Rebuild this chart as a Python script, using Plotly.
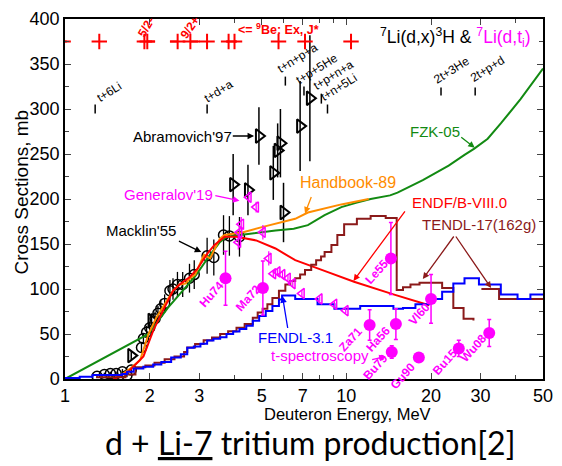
import math
import plotly.graph_objects as go

# ---------------- data (E in MeV, cross sections in mb) ----------------
fzk_E = [1.0, 1.98, 2.32, 2.66, 2.9, 3.28, 3.55, 3.75, 4.17, 4.89, 5.6, 6.5, 7.3, 8.37, 9.6,
         10.9, 12.2, 14.3, 15.2, 18.7, 23.1, 26.3, 28.5, 31.8, 35.4, 41.6, 50]
fzk_v = [0, 50, 79, 101, 114, 138, 152, 158, 160, 163, 165, 167, 171, 182, 191,
         196, 200, 204, 207, 221, 237, 249, 256, 267, 284, 311, 345]

hb_E = [1.49, 1.58, 1.71, 1.85, 1.98, 2.11, 2.26, 2.42, 2.55, 2.68, 2.79, 2.9, 3.12, 3.28,
        3.55, 3.69, 4.3, 5.05, 6.58, 7.3, 9.6, 12.0]
hb_v = [0, 4, 12, 21, 50, 68, 83, 98, 105, 106, 112, 116, 138, 134, 156, 160, 163, 169,
        178, 185, 194, 200]

endf_E = [1.49, 1.68, 1.9, 2.06, 2.23, 2.42, 2.58, 2.77, 2.95, 3.2, 3.4, 3.69, 4.07, 4.78,
          5.6, 6.58, 8.55, 10.65, 14.7, 19.7]
endf_v = [0, 8, 25, 54, 76, 98, 106, 113, 122, 139, 149, 158, 158, 154, 145, 132, 119, 108,
          94, 82]

tendl_E = [1.29, 1.64, 1.78, 1.93, 2.08, 2.26, 2.45, 2.65, 2.72, 2.90, 3.11, 3.33, 3.56, 3.80,
           4.07, 4.35, 4.65, 4.84, 5.04, 5.24, 5.46, 5.76, 6.07, 6.32, 6.58, 6.85, 7.13, 7.50,
           7.81, 8.13, 8.37, 8.85, 9.29, 9.82, 10.9, 12.2, 13.8, 15.1, 15.9, 16.9, 18.2, 21.9,
           24.0, 26.1, 28.3, None, 30.2, 34.9, 50]
tendl_v = [2, 5, 13, 15, 18, 22, 25, 30, 35, 39, 43, 46, 50, 53, 57, 61, 68, 74, 78, 83, 90,
           98, 105, 109, 112, 116, 121, 127, 132, 136, 141, 149, 160, 172, 178, 181, 179, 99,
           102, 105, 107, 101, 79, 67, 65, None, 100, 89, 89]

fendl_E = [1.0, 1.128, 1.254, 1.596, 1.662, 1.753, 1.899, 2.058, 2.2, 2.384, 2.58, 2.72, 2.87,
           3.03, 3.2, 3.37, 3.56, 3.75, 3.96, 4.17, 4.41, 4.65, 4.9, 5.17, 5.46, 5.76, 5.91,
           6.58, 7.9, 9.07, 11.2, 13.8, 14.7, 15.9, 17.6, 19.7, 21.9, 24.0, 26.3, 29.6, 35.4,
           40.6, 45.1, 50]
fendl_v = [1, 2.5, 4.4, 5.5, 8, 11.7, 13.5, 16.1, 19, 23.8, 27.4, 34.7, 36.2, 39.1, 42.7, 44.6,
           46.4, 50.1, 52.9, 55.6, 59.2, 64.7, 70.1, 75.6, 81.1, 88.4, 92.8, 89, 83, 78, 81, 81,
           78, 79, 83, 89, 97, 106, 112, 105, 94, 89, 94, 94]

macklin_E = [1.30, 1.38, 1.45, 1.52, 1.60, 1.66, 1.72, 1.87, 1.90, 1.95, 2.00, 2.09, 2.14, 2.19,
             2.26, 2.36, 2.42, 2.51, 2.62, 2.77, 2.88, 3.20, 3.38, 3.66, 3.84, 4.17]
macklin_v = [3, 5, 6, 6, 8, 4, 10, 35, 45, 52, 57, 67, 73, 78, 84, 98, 100, 105, 105, 112, 116,
             137, 135, 160, 159, 158]
macklin_err = [2, 2, 2, 2, 3, 2, 3, 5, 6, 7, 7, 8, 8, 9, 10, 12, 12, 14, 14, 16, 16, 20, 20, 22,
               22, 22]

abr_E = [1.72, 2.03, 3.96, 4.47, 4.89, 5.50, 5.70, 5.83, 5.98, 6.85, 7.42]
abr_v = [26, 65, 216, 210, 270, 229, 254, 262, 185, 281, 312]
abr_err = [5, 8, 34, 28, 32, 30, 30, 38, 33, 50, 70]

gen_E = [4.13, 4.17, 4.23, 4.50, 4.78, 5.05, 5.30, 5.50, 5.70, 5.93, 6.20, 6.45, 6.95, 8.04,
         9.07, 9.95]
gen_v = [152, 163, 172, 202, 191, 163, 134, 117, 119, 116, 112, 106, 95, 89, 83, 76]
gen_err = [8, 8, 8, 6, 6, 8, 8, 4, 4, 4, 4, 4, 4, 3, 3, 3]

ts_lab = ['Hu74', 'Ma72', 'Le55', 'Za71', 'Ha56', 'Bu79', 'Gu90', 'Vl60', 'Bu15', 'Wu08']
ts_E = [3.72, 5.05, 14.4, 12.1, 15.0, 14.5, 18.1, 20.0, 25.1, 32.2]
ts_v = [112, 101, 134, 60, 61, 30, 24, 89, 34, 51]
ts_err = [30, 30, 40, 17, 17, 7, 5, 27, 9, 15]

lev_E = [0.985, 1.324, 1.915, 1.961, 2.514, 2.79, 3.198, 3.815, 4.004, 5.74, 7.13, 10.39]
lev_v = [375] * len(lev_E)
lev_wp = [0.03, 0, 0, 0.13, 0, 0.23, 0, 0, 0.08, 0, 0, 0]
lev_wm = [0.03, 0, 0, 0, 0.15, 0, 0, 0.08, 0, 0, 0, 0]

thr_lab = ['t+6Li', 't+d+a', 't+n+p+a', 't+p+5He', 't+p+n+a', 't+n+5Li', '2t+3He', '2t+p+d']
thr_E = [1.28, 3.2, 6.07, 7.07, 8.15, 8.57, 21.7, 28.7]
thr_lo = [295, 295, 326, 315, 306, 295, 315, 315]
thr_hi = [305, 305, 336, 325, 317, 305, 324, 324]

x_ticks = [1, 2, 3, 5, 7, 10, 20, 30, 50]
x_minor = [4, 6, 8, 9, 40]

# ---------------- styling ----------------
FONT = "Liberation Sans, Arial, sans-serif"
MAG = "#FF00FF"
GREEN = "#128A12"
ORANGE = "#FF8C00"
RED = "#FF0000"
MAROON = "#8B1A1A"
BLUE = "#0000FF"


def L(e):
    return math.log10(e)


fig = go.Figure()

# threshold tick marks
for e, lo, hi in zip(thr_E, thr_lo, thr_hi):
    fig.add_trace(go.Scatter(x=[e, e], y=[lo, hi], mode='lines',
                             line=dict(color='black', width=1.5), hoverinfo='skip'))

# Macklin'55
fig.add_trace(go.Scatter(x=macklin_E, y=macklin_v, mode='markers',
                         marker=dict(symbol='circle-open', size=10, color='black',
                                     line=dict(width=1.5)),
                         error_y=dict(type='data', array=macklin_err, color='black',
                                      thickness=1.3, width=0)))
# Abramovich'97
fig.add_trace(go.Scatter(x=abr_E, y=abr_v, mode='markers',
                         marker=dict(symbol='triangle-right-open', size=12, color='black',
                                     line=dict(width=2)),
                         error_y=dict(type='data', array=abr_err, color='black',
                                      thickness=1.5, width=0)))

# evaluations
fig.add_trace(go.Scatter(x=fzk_E, y=fzk_v, mode='lines', line=dict(color=GREEN, width=2)))
fig.add_trace(go.Scatter(x=hb_E, y=hb_v, mode='lines', line=dict(color=ORANGE, width=2)))
fig.add_trace(go.Scatter(x=endf_E, y=endf_v, mode='lines', line=dict(color=RED, width=2)))
fig.add_trace(go.Scatter(x=tendl_E, y=tendl_v, mode='lines', connectgaps=False,
                         line=dict(color=MAROON, width=2, shape='hv')))
fig.add_trace(go.Scatter(x=fendl_E, y=fendl_v, mode='lines',
                         line=dict(color=BLUE, width=2, shape='hv')))

# Generalov'19
fig.add_trace(go.Scatter(x=gen_E, y=gen_v, mode='markers',
                         marker=dict(symbol='triangle-left-open', size=9, color=MAG,
                                     line=dict(width=1.5)),
                         error_y=dict(type='data', array=gen_err, color=MAG,
                                      thickness=1.2, width=0)))
# t-spectroscopy
fig.add_trace(go.Scatter(x=ts_E, y=ts_v, mode='markers',
                         marker=dict(symbol='circle', size=12, color=MAG),
                         error_y=dict(type='data', array=ts_err, color=MAG,
                                      thickness=1.5, width=2)))
# 9Be levels
fig.add_trace(go.Scatter(x=lev_E, y=lev_v, mode='markers',
                         marker=dict(symbol='cross-thin-open', size=11, color=RED,
                                     line=dict(width=2, color=RED)),
                         error_x=dict(type='data', symmetric=False, array=lev_wp,
                                      arrayminus=lev_wm, color=RED, thickness=2, width=0)))

ann = []


def txt(text, e, v, color='black', size=15, angle=0, xanchor='center', bold=False):
    if bold:
        text = '<b>' + text + '</b>'
    ann.append(dict(x=L(e), y=v, xref='x', yref='y', text=text, showarrow=False,
                    textangle=angle, xanchor=xanchor, yanchor='middle',
                    font=dict(family=FONT, size=size, color=color)))


def arrow(e_tail, v_tail, e_head, v_head, color):
    ann.append(dict(x=L(e_head), y=v_head, ax=L(e_tail), ay=v_tail, xref='x', yref='y',
                    axref='x', ayref='y', text='', showarrow=True, arrowhead=2,
                    arrowsize=1, arrowwidth=1.3, arrowcolor=color, standoff=0))


# curve / dataset labels
txt("Abramovich'97", 2.62, 270)
arrow(3.90, 270, 4.70, 270, 'black')
txt("Generalov'19", 2.34, 205, MAG)
arrow(3.38, 204, 4.17, 198, MAG)
txt("Macklin'55", 1.87, 165)
arrow(2.51, 154, 3.05, 141, 'black')
txt("Handbook-89", 10.15, 218, ORANGE, 16)
arrow(7.54, 204, 7.13, 184, ORANGE)
txt("FZK-05", 20.7, 275, GREEN)
arrow(25.3, 270, 28.6, 257, GREEN)
txt("ENDF/B-VIII.0", 25.3, 196, RED)
arrow(16.3, 188, 10.6, 109, RED)
txt("TENDL-17(162g)", 29.5, 172, MAROON)
arrow(24.3, 160, 18.7, 111, MAROON)
arrow(24.3, 160, 32.7, 101, MAROON)
txt("FENDL-3.1", 6.58, 46, BLUE)
arrow(6.2, 55, 5.93, 92, BLUE)
txt("t-spectroscopy", 8.04, 26, MAG)
arrow(12.2, 21, 13.8, 25, MAG)

# t-spectroscopy point labels
ts_pos = [(3.33, 94), (4.48, 90), (12.8, 119), (10.4, 44), (13.0, 44), (12.7, 13),
          (15.9, 3), (18.2, 72), (22.4, 19), (28.3, 35)]
for lab, (e, v) in zip(ts_lab, ts_pos):
    txt(lab, e, v, MAG, 12, -48, bold=True)

# threshold labels
thr_pos = [(1.434, 319), (3.52, 320), (6.69, 357), (7.85, 344), (9.0, 338), (9.44, 324),
           (23.7, 343), (31.7, 344)]
for lab, (e, v) in zip(thr_lab, thr_pos):
    txt(lab, e, v, 'black', 12, -32)

# 9Be level labels
txt("5/2-", 1.945, 391, RED, 12, -60, bold=True)
txt("9/2+", 2.79, 391, RED, 12, -55, bold=True)
txt("&lt;= <sup>9</sup>Be: Ex, J*", 5.74, 389, RED, 12.5, 0, bold=True)

# reaction title
ann.append(dict(x=L(46.2), y=380, xref='x', yref='y', xanchor='right', yanchor='middle',
                showarrow=False,
                text="<sup>7</sup>Li(d,x)<sup>3</sup>H &amp; "
                     "<span style='color:#FF00FF'><sup>7</sup>Li(d,t<sub>i</sub>)</span>",
                font=dict(family=FONT, size=17.5, color='black')))

# axis titles
ann.append(dict(x=-0.092, y=0.518, xref='paper', yref='paper', text="Cross Sections, mb",
                textangle=-90, showarrow=False, xanchor='center', yanchor='middle',
                font=dict(family=FONT, size=19)))
ann.append(dict(x=0.59, y=-0.096, xref='paper', yref='paper', text="Deuteron Energy, MeV",
                showarrow=False, xanchor='center', yanchor='middle',
                font=dict(family=FONT, size=16.5)))
# caption
ann.append(dict(x=0.512, y=-0.176, xref='paper', yref='paper',
                text="d + <span style='text-decoration:underline'>Li-7</span> tritium production[2]",
                showarrow=False, xanchor='center', yanchor='middle',
                font=dict(family="Lato, Carlito, sans-serif", size=32)))

fig.update_layout(
    width=562, height=466,
    margin=dict(l=65, r=9, t=14, b=87),
    plot_bgcolor='white', paper_bgcolor='white',
    showlegend=False,
    font=dict(family=FONT, color='black'),
    annotations=ann,
    xaxis=dict(type='log', range=[0, L(50)], tickvals=x_ticks,
               ticktext=[str(t) for t in x_ticks], ticks='inside', ticklen=6, tickwidth=1.2,
               mirror='allticks', showline=True, linecolor='black', linewidth=1.5,
               showgrid=False, zeroline=False, tickfont=dict(size=18, family=FONT),
               minor=dict(tickvals=x_minor, ticks='inside', ticklen=4, showgrid=False)),
    yaxis=dict(range=[0, 400], tick0=0, dtick=50, ticks='inside', ticklen=6, tickwidth=1.2,
               mirror='allticks', showline=True, linecolor='black', linewidth=1.5,
               showgrid=False, zeroline=False, tickfont=dict(size=18, family=FONT),
               minor=dict(dtick=25, ticks='inside', ticklen=4, showgrid=False)),
)

fig.write_html("out.html")
